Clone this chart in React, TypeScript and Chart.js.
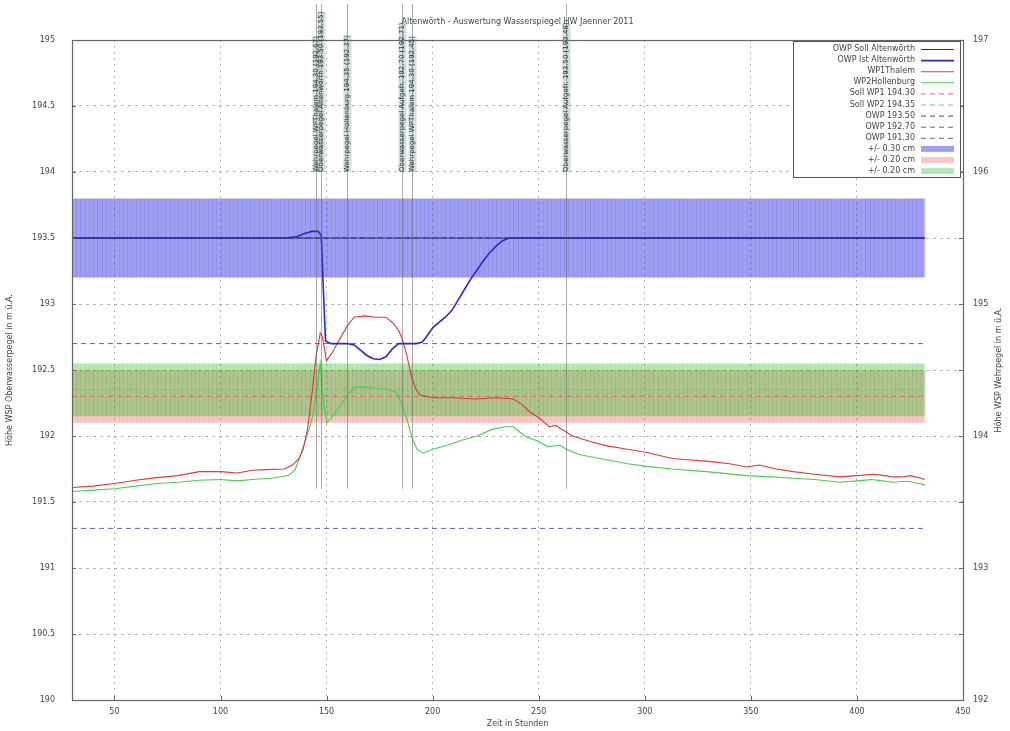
import React, { useEffect, useRef } from "react";
import { Chart, registerables } from "chart.js";

Chart.register(...registerables);

// ---------- texts ----------
const chartTitle = "Altenwörth - Auswertung Wasserspiegel HW Jaenner 2011";
const xTitle = "Zeit in Stunden";
const leftTitle = "Höhe WSP Oberwasserpegel in m ü.A.";
const rightTitle = "Höhe WSP Wehrpegel in m ü.A.";

// ---------- axes ----------
const xTicks = [50, 100, 150, 200, 250, 300, 350, 400, 450];
const leftTicks = [190, 190.5, 191, 191.5, 192, 192.5, 193, 193.5, 194, 194.5, 195];
const rightTicks = [192, 193, 194, 195, 196, 197];
const rightOffset = 2; // Wehrpegel axis = Oberwasser axis + 2 m

const rangeStart = 30;
const rangeEnd = 432;

// ---------- series ----------
const sollHours = [30, 432];
const sollValues = [193.5, 193.5];

const istHours = [30, 60, 100, 130, 136, 139, 143, 146, 147.5, 148.5, 149.5, 152, 156, 160, 163, 166, 169, 172, 175, 178, 181, 184, 188, 192, 195, 197, 200, 203, 206, 209, 212, 215, 218, 221, 224, 227, 230, 233, 236, 240, 300, 360, 432];
const istValues = [193.5, 193.5, 193.5, 193.5, 193.51, 193.53, 193.55, 193.55, 193.52, 193.1, 192.72, 192.7, 192.7, 192.7, 192.69, 192.65, 192.61, 192.585, 192.58, 192.6, 192.66, 192.7, 192.7, 192.7, 192.71, 192.75, 192.82, 192.86, 192.9, 192.95, 193.03, 193.11, 193.19, 193.26, 193.33, 193.39, 193.44, 193.48, 193.5, 193.5, 193.5, 193.5, 193.5];

const thalemHours = [30, 40, 50, 60, 70, 80, 90, 100, 108, 115, 122, 130, 134, 137, 139, 141, 143, 145, 147, 148, 150, 153, 156, 160, 163, 168, 173, 178, 181, 184, 186, 188, 190, 192, 194, 197, 200, 210, 220, 230, 238, 242, 246, 250, 255, 258, 262, 266, 274, 282, 292, 301, 313, 320, 329, 340, 348, 354, 362, 370, 380, 392, 400, 408, 413, 417, 421, 425, 429, 432];
const thalemValues = [191.61, 191.62, 191.64, 191.665, 191.685, 191.7, 191.73, 191.73, 191.72, 191.74, 191.745, 191.75, 191.78, 191.83, 191.9, 192.05, 192.3, 192.6, 192.78, 192.75, 192.57, 192.64, 192.73, 192.84, 192.9, 192.91, 192.9, 192.9, 192.86, 192.8, 192.72, 192.6, 192.45, 192.36, 192.31, 192.3, 192.29, 192.29, 192.28, 192.29, 192.28, 192.24, 192.18, 192.14, 192.07, 192.08, 192.04, 192.0, 191.96, 191.925, 191.9, 191.875, 191.83, 191.82, 191.81, 191.79, 191.765, 191.78, 191.75, 191.73, 191.71, 191.69, 191.7, 191.71, 191.7, 191.69, 191.69, 191.7, 191.685, 191.67];

const hollenburgHours = [30, 40, 50, 60, 70, 80, 90, 100, 108, 115, 124, 132, 135, 137, 139, 141, 143, 145, 147, 148, 150, 153, 156, 160, 163, 168, 175, 180, 183, 186, 188, 190, 192.6, 195.5, 200, 207, 214, 221, 228, 234, 238, 241, 244.5, 250, 254, 260, 263, 269, 282, 292, 301, 313, 329, 348, 360, 370, 380, 392, 400, 407, 412, 417, 421, 425, 429, 432];
const hollenburgValues = [191.58, 191.59, 191.6, 191.62, 191.64, 191.65, 191.665, 191.67, 191.66, 191.67, 191.68, 191.7, 191.74, 191.82, 191.92, 192.01, 192.12, 192.3, 192.55, 192.35, 192.1, 192.15, 192.22, 192.31, 192.37, 192.37, 192.36, 192.35, 192.33, 192.22, 192.12, 192.0, 191.9, 191.87, 191.9, 191.93, 191.97, 192.0, 192.05, 192.07, 192.07, 192.03, 191.99, 191.96, 191.92, 191.93, 191.9, 191.86, 191.82, 191.79, 191.77, 191.75, 191.73, 191.7, 191.69, 191.68, 191.67, 191.65, 191.66, 191.67, 191.66, 191.65, 191.655, 191.655, 191.64, 191.63];

// ---------- reference levels (left-axis values) ----------
const refLabels = ["Soll WP1 194.30", "Soll WP2 194.35", "OWP 193.50", "OWP 192.70", "OWP 191.30"];
const refLevels = [192.3, 192.35, 193.5, 192.7, 191.3];
const refColors = ["#e86a6a", "#5fc98a", "#3a3aa8", "#5a5ab8", "#6a5ab8"];

// ---------- tolerance bands ----------
const bandLabels = ["+/- 0.30 cm", "+/- 0.20 cm", "+/- 0.20 cm"];
const bandCenters = [193.5, 192.3, 192.35];
const bandHalfWidths = [0.3, 0.2, 0.2];
const bandColors = ["rgba(50,50,228,0.47)", "rgba(235,70,70,0.3)", "rgba(20,185,20,0.33)"];
const bandStripeColors = ["rgba(40,40,190,0.12)", "rgba(200,60,60,0.08)", "rgba(30,150,30,0.08)"];

// ---------- event annotations ----------
const annotationHours = [145.0, 147.2, 159.6, 185.6, 190.3, 262.9];
const annotationLabels = [
  "Wehrpegel WPThalem 194.30 (192.67)",
  "Oberwasserpegel Altenwörth 193.50 (193.55)",
  "Wehrpegel Hollenburg 194.35 (192.37)",
  "Oberwasserpegel Aufgefr. 192.70 (192.71)",
  "Wehrpegel WPThalem 194.30 (192.45)",
  "Oberwasserpegel Aufgefr. 193.50 (193.48)",
];

const FONT = '"DejaVu Sans", sans-serif';
const TEXT = "#444";

const toPts = (h: number[], v: number[]) => h.map((x, i) => ({ x, y: v[i] }));

const decorPlugin = {
  id: "decor",
  afterDatasetDraw(chart: any, args: any) {
    const ds = chart.data.datasets[args.index];
    if (!ds.isBand) return;
    const { ctx, scales } = chart;
    const x = scales.x;
    const y = scales.y;
    const yTop = y.getPixelForValue(ds.bandHigh);
    const yBot = y.getPixelForValue(ds.bandLow);
    ctx.save();
    ctx.strokeStyle = ds.stripeColor;
    ctx.lineWidth = 1;
    for (let h = rangeStart; h <= rangeEnd; h += 2) {
      const px = Math.round(x.getPixelForValue(h)) + 0.5;
      ctx.beginPath();
      ctx.moveTo(px, yTop);
      ctx.lineTo(px, yBot);
      ctx.stroke();
    }
    ctx.restore();
  },
  afterDraw(chart: any) {
    const { ctx, chartArea: a, scales } = chart;
    const x = scales.x;
    const y = scales.y;
    ctx.save();
    // frame
    ctx.strokeStyle = "#666";
    ctx.lineWidth = 1.2;
    ctx.strokeRect(a.left + 0.5, a.top + 0.5, a.right - a.left, a.bottom - a.top);

    // small inside ticks (left / right / bottom)
    ctx.strokeStyle = "#666";
    ctx.lineWidth = 1;
    leftTicks.forEach((v) => {
      const py = Math.round(y.getPixelForValue(v)) + 0.5;
      ctx.beginPath();
      ctx.moveTo(a.left, py); ctx.lineTo(a.left + 4, py);
      ctx.moveTo(a.right, py); ctx.lineTo(a.right - 4, py);
      ctx.stroke();
    });
    xTicks.forEach((v) => {
      const px = Math.round(x.getPixelForValue(v)) + 0.5;
      ctx.beginPath();
      ctx.moveTo(px, a.bottom); ctx.lineTo(px, a.bottom - 4);
      ctx.stroke();
    });

    // title
    ctx.fillStyle = TEXT;
    ctx.font = `8px ${FONT}`;
    ctx.textAlign = "center";
    ctx.textBaseline = "middle";
    ctx.fillText(chartTitle, (a.left + a.right) / 2, 22);
    // x title
    ctx.fillText(xTitle, (a.left + a.right) / 2, 724);
    // left title
    ctx.save();
    ctx.translate(10, (a.top + a.bottom) / 2);
    ctx.rotate(-Math.PI / 2);
    ctx.fillText(leftTitle, 0, 0);
    ctx.restore();
    // right title
    ctx.save();
    ctx.translate(999, (a.top + a.bottom) / 2);
    ctx.rotate(-Math.PI / 2);
    ctx.fillText(rightTitle, 0, 0);
    ctx.restore();

    // annotations
    const textBase = 172;
    const lineEnd = y.getPixelForValue(191.6);
    annotationHours.forEach((h, i) => {
      const px = Math.round(x.getPixelForValue(h)) + 0.5;
      ctx.strokeStyle = "rgba(90,90,90,0.5)";
      ctx.lineWidth = 1;
      ctx.beginPath();
      ctx.moveTo(px, 4);
      ctx.lineTo(px, lineEnd);
      ctx.stroke();
      ctx.save();
      ctx.translate(px, textBase);
      ctx.rotate(-Math.PI / 2);
      ctx.font = `7px ${FONT}`;
      const w = Math.min(ctx.measureText(annotationLabels[i]).width, textBase - 4);
      ctx.fillStyle = "rgba(110,150,150,0.3)";
      ctx.fillRect(0, -4, w, 8);
      ctx.fillStyle = "#333";
      ctx.textAlign = "left";
      ctx.textBaseline = "middle";
      ctx.fillText(annotationLabels[i], 0, 0, textBase - 4);
      ctx.restore();
    });

    // legend
    const lx0 = 793.5, lx1 = 960.5, ly0 = 41.5, ly1 = 177.5;
    ctx.fillStyle = "#fff";
    ctx.fillRect(lx0, ly0, lx1 - lx0, ly1 - ly0);
    ctx.strokeStyle = "#555";
    ctx.lineWidth = 1;
    ctx.strokeRect(lx0, ly0, lx1 - lx0, ly1 - ly0);
    ctx.font = `8px ${FONT}`;
    ctx.textAlign = "right";
    ctx.textBaseline = "middle";
    chart.data.datasets.forEach((ds: any, i: number) => {
      const ry = 49 + i * 11.1;
      ctx.fillStyle = TEXT;
      ctx.fillText(ds.label, 915, ry);
      if (ds.isBand) {
        ctx.fillStyle = ds.backgroundColor;
        ctx.fillRect(921, ry - 3, 33, 6);
      } else {
        ctx.save();
        ctx.strokeStyle = ds.borderColor;
        ctx.lineWidth = ds.borderWidth;
        ctx.setLineDash(ds.borderDash || []);
        ctx.beginPath();
        ctx.moveTo(921, ry + 0.5);
        ctx.lineTo(954, ry + 0.5);
        ctx.stroke();
        ctx.restore();
      }
    });
    ctx.restore();
  },
};

export default function App() {
  const ref = useRef<HTMLCanvasElement>(null);

  useEffect(() => {
    const canvas = ref.current;
    if (!canvas) return;

    const lineBase = { pointRadius: 0, fill: false, tension: 0, yAxisID: "y" };
    const datasets: any[] = [
      { ...lineBase, label: "OWP Soll Altenwörth", data: toPts(sollHours, sollValues), borderColor: "#2c2c70", borderWidth: 1.2, order: 0 },
      { ...lineBase, label: "OWP Ist Altenwörth", data: toPts(istHours, istValues), borderColor: "#2a2ac4", borderWidth: 1.6, order: 0 },
      { ...lineBase, label: "WP1Thalem", data: toPts(thalemHours, thalemValues), borderColor: "#e03838", borderWidth: 1.1, order: 0 },
      { ...lineBase, label: "WP2Hollenburg", data: toPts(hollenburgHours, hollenburgValues), borderColor: "#4ccc4c", borderWidth: 1.1, order: 0 },
      ...refLevels.map((lv, i) => ({
        ...lineBase,
        label: refLabels[i],
        data: [{ x: rangeStart, y: lv }, { x: rangeEnd, y: lv }],
        borderColor: refColors[i],
        borderWidth: 1,
        borderDash: [5, 4],
        order: 1,
      })),
      ...bandCenters.map((c, i) => ({
        ...lineBase,
        label: bandLabels[i],
        isBand: true,
        bandHigh: c + bandHalfWidths[i],
        bandLow: c - bandHalfWidths[i],
        stripeColor: bandStripeColors[i],
        data: [{ x: rangeStart, y: c + bandHalfWidths[i] }, { x: rangeEnd, y: c + bandHalfWidths[i] }],
        fill: { value: c - bandHalfWidths[i] },
        backgroundColor: bandColors[i],
        borderColor: "rgba(0,0,0,0)",
        borderWidth: 0,
        order: 2 + (2 - i),
      })),
    ];

    const tickFont = { family: FONT, size: 8 };
    const fmt = (v: any) => `${Number(v)}`;
    const chart = new Chart(canvas, {
      type: "line",
      data: { datasets },
      plugins: [decorPlugin],
      options: {
        animation: false,
        responsive: false,
        events: [],
        layout: { padding: { top: 40, left: 0, right: 0, bottom: 0 } },
        plugins: { legend: { display: false }, tooltip: { enabled: false }, title: { display: false } },
        scales: {
          x: {
            type: "linear",
            min: 30,
            max: 450,
            afterBuildTicks: (s: any) => { s.ticks = xTicks.map((v) => ({ value: v })); },
            afterFit: (s: any) => { s.height = 31; },
            ticks: { font: tickFont, color: TEXT, padding: 7, maxRotation: 0, autoSkip: false, callback: fmt },
            grid: { color: "rgba(120,120,120,0.55)", drawTicks: false, lineWidth: 1 },
            border: { display: false, dash: [2, 4] },
          },
          y: {
            type: "linear",
            position: "left",
            min: 190,
            max: 195,
            afterBuildTicks: (s: any) => { s.ticks = leftTicks.map((v) => ({ value: v })); },
            afterFit: (s: any) => { s.width = 72; },
            ticks: { font: tickFont, color: TEXT, padding: 17, autoSkip: false, callback: fmt },
            grid: { color: "rgba(120,120,120,0.55)", drawTicks: false, lineWidth: 1 },
            border: { display: false, dash: [3, 4] },
          },
          y2: {
            type: "linear",
            position: "right",
            min: 190 + rightOffset,
            max: 195 + rightOffset,
            afterBuildTicks: (s: any) => { s.ticks = rightTicks.map((v) => ({ value: v })); },
            afterFit: (s: any) => { s.width = 47; },
            ticks: { font: tickFont, color: TEXT, padding: 10, autoSkip: false, callback: fmt },
            grid: { drawOnChartArea: false, drawTicks: false },
            border: { display: false },
          },
        },
      } as any,
    });
    return () => chart.destroy();
  }, []);

  return (
    <div style={{ position: "absolute", left: 0, top: 0, width: 1010, height: 731, background: "#fff" }}>
      <canvas ref={ref} width={1010} height={731} style={{ display: "block" }} />
    </div>
  );
}
